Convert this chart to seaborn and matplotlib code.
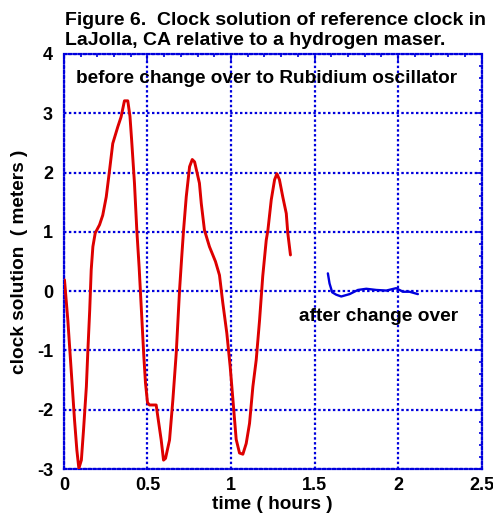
import numpy as np
import pandas as pd
import matplotlib
matplotlib.use("Agg")
import matplotlib.pyplot as plt
import seaborn as sns
from matplotlib.ticker import MultipleLocator

# before change over (red)
before_time = [0.003, 0.023, 0.043, 0.063, 0.077, 0.089, 0.104, 0.117, 0.134, 0.143,
               0.154, 0.163, 0.173, 0.187, 0.213, 0.232, 0.253, 0.272, 0.292, 0.322,
               0.342, 0.362, 0.382, 0.395, 0.405, 0.422, 0.436, 0.450, 0.465, 0.478,
               0.488, 0.500, 0.512, 0.552, 0.562, 0.582, 0.596, 0.608, 0.632, 0.652,
               0.672, 0.692, 0.705, 0.716, 0.732, 0.752, 0.768, 0.782, 0.811, 0.822,
               0.841, 0.871, 0.907, 0.931, 0.951, 0.975, 0.995, 1.015, 1.031, 1.051,
               1.071, 1.091, 1.111, 1.131, 1.151, 1.171, 1.190, 1.211, 1.221, 1.241,
               1.261, 1.275, 1.290, 1.310, 1.331, 1.340, 1.356]
before_clock = [0.19, -0.49, -1.33, -2.17, -2.68, -2.99, -2.85, -2.34, -1.61, -1.00,
                -0.32, 0.36, 0.75, 0.98, 1.12, 1.28, 1.59, 2.02, 2.49, 2.77,
                2.94, 3.21, 3.21, 2.95, 2.55, 1.82, 1.03, 0.40, -0.40, -1.10,
                -1.55, -1.88, -1.92, -1.92, -2.12, -2.51, -2.85, -2.82, -2.51, -1.83,
                -1.05, 0.02, 0.58, 1.03, 1.59, 2.10, 2.22, 2.18, 1.82, 1.48,
                1.03, 0.75, 0.50, 0.27, -0.20, -0.71, -1.27, -1.95, -2.50, -2.73,
                -2.75, -2.57, -2.23, -1.61, -1.16, -0.49, 0.25, 0.86, 1.03, 1.54,
                1.88, 1.98, 1.88, 1.59, 1.31, 0.98, 0.61]

# after change over (blue)
after_time = [1.580, 1.590, 1.606, 1.630, 1.660, 1.710, 1.760, 1.810, 1.870, 1.930,
              1.989, 2.029, 2.069, 2.119]
after_clock = [0.30, 0.13, -0.02, -0.06, -0.09, -0.05, 0.02, 0.04, 0.02, 0.01,
               0.05, -0.01, -0.01, -0.05]

x_ticks = [0, 0.5, 1, 1.5, 2, 2.5]
x_tick_labels = ["0", "0.5", "1", "1.5", "2", "2.5"]
y_ticks = [-3, -2, -1, 0, 1, 2, 3, 4]

sns.set_style("white")
plt.rcParams['font.family'] = ['Liberation Sans', 'DejaVu Sans']
plt.rcParams['font.weight'] = 'bold'
plt.rcParams['text.color'] = 'black'
plt.rcParams['axes.labelcolor'] = 'black'
plt.rcParams['axes.unicode_minus'] = False

df_before = pd.DataFrame({"time": before_time, "clock": before_clock})
df_after = pd.DataFrame({"time": after_time, "clock": after_clock})

fig = plt.figure(figsize=(4.93, 5.17), dpi=100)
ax = fig.add_axes([0.1298, 0.0928, 0.8469, 0.8028])

blue = "#0000dd"
dots = (0, (1.1, 1.1))

sns.lineplot(data=df_before, x="time", y="clock", ax=ax, sort=False, estimator=None,
             color="#dd0000", linewidth=2.1, zorder=3)
sns.lineplot(data=df_after, x="time", y="clock", ax=ax, sort=False, estimator=None,
             color="#0000dd", linewidth=1.7, zorder=3)

ax.set_xlim(0, 2.5)
ax.set_ylim(-3, 4)
ax.set_xticks(x_ticks)
ax.set_xticklabels(x_tick_labels)
ax.set_yticks(y_ticks)
ax.xaxis.set_minor_locator(MultipleLocator(0.1))
ax.yaxis.set_minor_locator(MultipleLocator(0.2))
ax.tick_params(which="both", direction="in", top=True, right=True, color=blue,
               width=1.2, labelsize=13, labelcolor="black")
ax.tick_params(which="major", length=5)
ax.tick_params(which="minor", length=2.5)
ax.tick_params(axis="y", pad=8)
ax.tick_params(axis="x", pad=6)
for lab in ax.get_xticklabels() + ax.get_yticklabels():
    lab.set_fontweight("bold")

ax.grid(True, which="major", color=blue, linestyle=dots, linewidth=1.6)
for sp in ax.spines.values():
    sp.set_color(blue)
    sp.set_linestyle(dots)
    sp.set_linewidth(1.6)

ax.set_xlabel("time ( hours )", fontsize=13.7, fontweight="bold", labelpad=1)
ax.set_ylabel("clock solution  ( meters )", fontsize=13.7, fontweight="bold", labelpad=6)

ax.text(0.07, 3.51, "before change over to Rubidium oscillator", fontsize=13.7,
        fontweight="bold", va="baseline", ha="left")
ax.text(1.405, -0.50, "after change over", fontsize=13.8,
        fontweight="bold", va="baseline", ha="left")

fig.text(65 / 493, 1 - 25 / 517, "Figure 6.  Clock solution of reference clock in",
         fontsize=14, fontweight="bold", va="baseline", ha="left")
fig.text(65 / 493, 1 - 45 / 517, "LaJolla, CA relative to a hydrogen maser.",
         fontsize=14, fontweight="bold", va="baseline", ha="left")

plt.savefig("out.png", dpi=100)
